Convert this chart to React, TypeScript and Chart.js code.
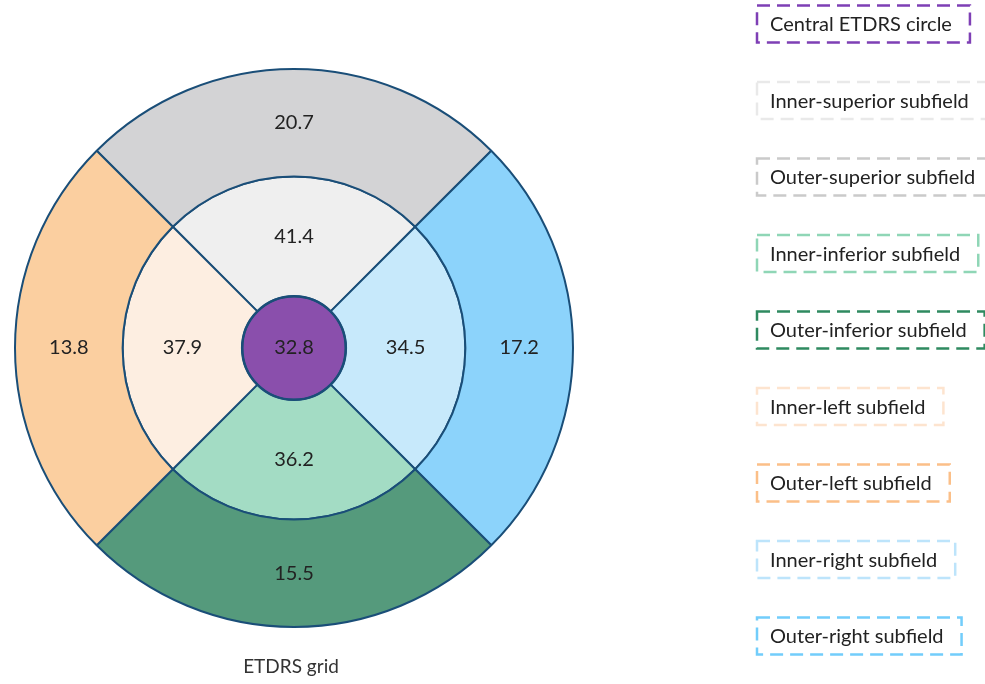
import React, { useEffect, useRef } from "react";
import { Chart, registerables } from "chart.js";

Chart.register(...registerables);

// Quadrant order (clockwise from top): superior, right, inferior, left
const sectorSpan = [1, 1, 1, 1];
const outerValues = [20.7, 17.2, 15.5, 13.8];
const innerValues = [41.4, 34.5, 36.2, 37.9];
const centralValue = [32.8];

const outerNames = ["Outer-superior subfield", "Outer-right subfield", "Outer-inferior subfield", "Outer-left subfield"];
const innerNames = ["Inner-superior subfield", "Inner-right subfield", "Inner-inferior subfield", "Inner-left subfield"];
const centralName = ["Central ETDRS circle"];

const outerFill = ["#d3d3d5", "#8cd3fb", "#559a7c", "#fbcfa0"];
const innerFill = ["#efefef", "#c7e9fb", "#a3dcc4", "#fdeee1"];
const centralFill = ["#8a4fac"];

const legendLabels = [
  "Central ETDRS circle",
  "Inner-superior subfield",
  "Outer-superior subfield",
  "Inner-inferior subfield",
  "Outer-inferior subfield",
  "Inner-left subfield",
  "Outer-left subfield",
  "Inner-right subfield",
  "Outer-right subfield",
];
const legendColors = [
  "#7e3fb5",
  "#e9e9e9",
  "#cacaca",
  "#8fd6b6",
  "#2f8a60",
  "#fde4cf",
  "#fbbf88",
  "#bde4fb",
  "#72cdfb",
];

const gridTitle = "ETDRS grid";
const edgeColor = "#1a4e78";

export default function App() {
  const canvasRef = useRef<HTMLCanvasElement | null>(null);

  useEffect(() => {
    document.body.style.margin = "0";
    const canvas = canvasRef.current;
    if (!canvas) return;

    const labelPlugin = {
      id: "etdrsLabels",
      afterDatasetsDraw(chart: any) {
        const ctx = chart.ctx;
        ctx.save();
        // outline of the central circle (the pie wedge itself is drawn without border)
        chart.data.datasets.forEach((ds: any, di: number) => {
          if (!ds.isCenter) return;
          const el: any = chart.getDatasetMeta(di).data[0];
          ctx.beginPath();
          ctx.arc(el.x, el.y, el.outerRadius, 0, Math.PI * 2);
          ctx.lineWidth = 2.5;
          ctx.strokeStyle = edgeColor;
          ctx.stroke();
        });
        ctx.font = "20px Lato";
        ctx.fillStyle = "#222";
        ctx.textAlign = "center";
        ctx.textBaseline = "middle";
        chart.data.datasets.forEach((ds: any, di: number) => {
          const meta = chart.getDatasetMeta(di);
          meta.data.forEach((el: any, i: number) => {
            const vals = ds.values as number[];
            let x: number, y: number;
            if (ds.isCenter) {
              x = el.x;
              y = el.y;
            } else {
              const p = el.tooltipPosition(false);
              x = p.x;
              y = p.y;
            }
            ctx.fillText(vals[i].toFixed(1), x, y);
          });
        });
        // title under the grid
        const el0: any = chart.getDatasetMeta(0).data[0];
        ctx.font = "19px Lato";
        ctx.fillStyle = "#333";
        ctx.fillText(gridTitle, el0.x - 3, 667);
        ctx.restore();
      },
      afterDraw(chart: any) {
        const ctx = chart.ctx;
        ctx.save();
        ctx.font = "20px Lato";
        ctx.textAlign = "left";
        ctx.textBaseline = "middle";
        const x0 = 757;
        const padL = 13;
        const padR = 18;
        const h = 37;
        legendLabels.forEach((lab, i) => {
          const cy = 24 + i * 76.5;
          const w = ctx.measureText(lab).width;
          ctx.setLineDash([13, 7]);
          ctx.lineWidth = 2.5;
          ctx.strokeStyle = legendColors[i];
          ctx.strokeRect(x0, cy - h / 2, padL + w + padR, h);
          ctx.setLineDash([]);
          ctx.fillStyle = "#222";
          ctx.fillText(lab, x0 + padL, cy + 1);
        });
        ctx.restore();
      },
    };

    const chart = new Chart(canvas, {
      type: "doughnut",
      data: {
        labels: ["superior", "right", "inferior", "left"],
        datasets: [
          {
            label: "Outer",
            data: sectorSpan,
            values: outerValues,
            names: outerNames,
            backgroundColor: outerFill,
            borderColor: edgeColor,
            borderWidth: 2,
            weight: 108,
          } as any,
          {
            label: "Inner",
            data: sectorSpan,
            values: innerValues,
            names: innerNames,
            backgroundColor: innerFill,
            borderColor: edgeColor,
            borderWidth: 2,
            weight: 120,
          } as any,
          {
            label: "Central",
            data: [1],
            values: centralValue,
            names: centralName,
            isCenter: true,
            backgroundColor: centralFill,
            borderColor: edgeColor,
            borderWidth: 0,
            weight: 52,
          } as any,
        ],
      },
      options: {
        animation: false,
        responsive: false,
        maintainAspectRatio: false,
        cutout: 0,
        rotation: -45,
        layout: { padding: { left: 14, right: 411, top: 68, bottom: 56 } },
        plugins: {
          legend: { display: false },
          tooltip: { enabled: false },
          title: { display: false },
        },
      } as any,
      plugins: [labelPlugin],
    });

    return () => chart.destroy();
  }, []);

  return (
    <div style={{ width: 985, height: 684, background: "#fff" }}>
      <canvas ref={canvasRef} width={985} height={684} style={{ display: "block" }} />
    </div>
  );
}
